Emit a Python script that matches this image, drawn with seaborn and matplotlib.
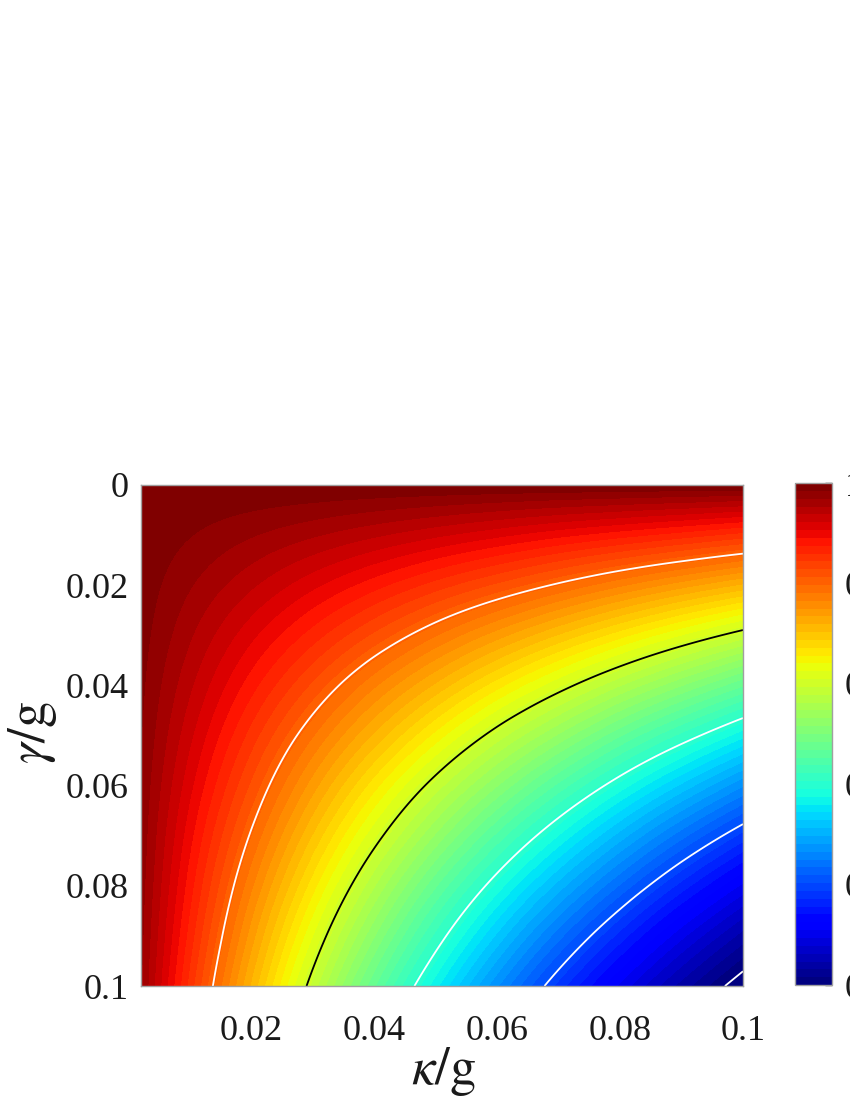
import numpy as np
import matplotlib
matplotlib.use("Agg")
import matplotlib.pyplot as plt
import matplotlib.tri as mtri
from matplotlib.colors import Normalize
from matplotlib.cm import ScalarMappable
import seaborn as sns

# grid (kappa/g columns, gamma/g rows)
kappa = [0.002, 0.01, 0.02, 0.03, 0.04, 0.05, 0.06, 0.07, 0.08, 0.09, 0.1]
gamma = [0.0, 0.01, 0.02, 0.03, 0.04, 0.05, 0.06, 0.07, 0.08, 0.09, 0.1]
value = [
    [1.000, 1.000, 1.000, 1.000, 1.000, 1.000, 1.000, 1.000, 1.000, 1.000, 1.000],
    [0.997, 0.985, 0.970, 0.955, 0.940, 0.925, 0.910, 0.895, 0.881, 0.867, 0.852],
    [0.994, 0.970, 0.940, 0.910, 0.881, 0.852, 0.824, 0.796, 0.768, 0.741, 0.715],
    [0.991, 0.955, 0.910, 0.867, 0.824, 0.782, 0.741, 0.701, 0.662, 0.624, 0.587],
    [0.988, 0.940, 0.881, 0.824, 0.768, 0.715, 0.662, 0.612, 0.563, 0.516, 0.470],
    [0.985, 0.925, 0.852, 0.782, 0.715, 0.650, 0.587, 0.528, 0.470, 0.416, 0.364],
    [0.982, 0.910, 0.824, 0.741, 0.662, 0.587, 0.516, 0.448, 0.384, 0.324, 0.267],
    [0.979, 0.895, 0.796, 0.701, 0.612, 0.528, 0.448, 0.374, 0.305, 0.240, 0.181],
    [0.976, 0.881, 0.768, 0.662, 0.563, 0.470, 0.384, 0.305, 0.232, 0.165, 0.105],
    [0.973, 0.867, 0.741, 0.624, 0.516, 0.416, 0.324, 0.240, 0.165, 0.098, 0.040],
    [0.970, 0.852, 0.715, 0.587, 0.470, 0.364, 0.267, 0.181, 0.105, 0.040, -0.016],
]

line_levels = [0.0, 0.2, 0.4, 0.6, 0.8]
line_colors = ["white", "white", "white", "black", "white"]

x_ticks = [0.02, 0.04, 0.06, 0.08, 0.1]
x_labels = ["0.02", "0.04", "0.06", "0.08", "0.1"]
y_ticks = [0.0, 0.02, 0.04, 0.06, 0.08, 0.1]
y_labels = ["0", "0.02", "0.04", "0.06", "0.08", "0.1"]
cb_ticks = [0.0, 0.2, 0.4, 0.6, 0.8, 1.0]
cb_labels = ["0", "0.2", "0.4", "0.6", "0.8", "1"]

sns.set_theme(style="white")
plt.rcParams["font.family"] = ["Liberation Serif", "DejaVu Serif"]
plt.rcParams["mathtext.fontset"] = "stix"

# seaborn refuses "jet" by name, so take it from matplotlib (64 steps like matlab)
jet = matplotlib.colormaps["jet"].resampled(64)

fig = plt.figure(figsize=(8.5, 11), dpi=100)
ax = fig.add_axes([0.1659, 0.1036, 0.7082, 0.4555])
cax = fig.add_axes([0.9353, 0.1045, 0.0435, 0.4564])

K, G = np.meshgrid(kappa, gamma)
tri = mtri.Triangulation(K.ravel(), G.ravel())
refiner = mtri.UniformTriRefiner(tri)
tri_f, z_f = refiner.refine_field(np.asarray(value).ravel(), subdiv=4)

ax.tricontourf(tri_f, z_f, levels=np.linspace(0, 1, 65), cmap=jet,
               extend="both")
ax.tricontour(tri_f, z_f, levels=line_levels, colors=line_colors,
              linewidths=1.3)

ax.set_xlim(0.002, 0.1)
ax.set_ylim(0.1, 0.0)
ax.set_xticks(x_ticks)
ax.set_xticklabels(x_labels)
ax.set_yticks(y_ticks)
ax.set_yticklabels(y_labels)
ax.tick_params(axis="both", length=0, labelsize=26, colors="#1a1a1a")
ax.tick_params(axis="x", pad=21)
ax.tick_params(axis="y", pad=9)
for s in ax.spines.values():
    s.set_color("#a0a0a0")
    s.set_linewidth(1.0)

ax.set_xlabel(r"$\kappa/\mathrm{g}$", fontsize=38, color="#1a1a1a")
ax.set_ylabel(r"$\gamma/\mathrm{g}$", fontsize=38, color="#1a1a1a")
ax.xaxis.set_label_coords(0.502, -0.118)
ax.yaxis.set_label_coords(-0.136, 0.507)

sm = ScalarMappable(norm=Normalize(0, 1), cmap=jet)
cb = fig.colorbar(sm, cax=cax, ticks=cb_ticks)
cb.set_ticklabels(cb_labels)
cb.outline.set_edgecolor("#a0a0a0")
cb.outline.set_linewidth(1.0)
cax.tick_params(direction="in", length=5, width=1, color="#262626",
                labelsize=26, labelcolor="#1a1a1a", pad=9)

fig.savefig("out.png", dpi=100)
